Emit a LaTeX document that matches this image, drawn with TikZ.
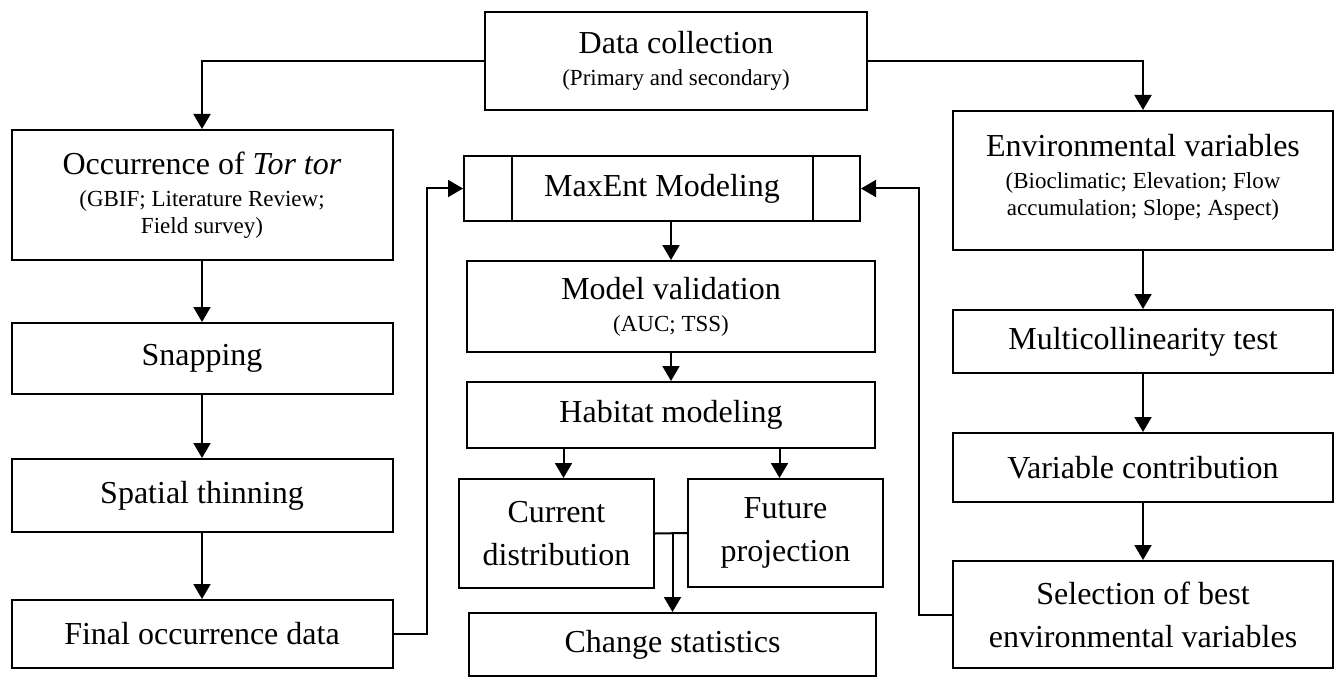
\documentclass[tikz,border=0pt]{standalone}
\usepackage{fontspec}
\setmainfont{Liberation Serif}
\usetikzlibrary{arrows.meta,calc}
\newcommand{\sm}{\fontsize{23}{27}\selectfont}
\tikzset{
  box/.style={draw=black, line width=2pt, fill=white, inner sep=0pt, align=center,
    font=\fontsize{32}{43}\selectfont},
  dual/.style={box, font=\fontsize{32}{27}\selectfont},
  conn/.style={draw=black, line width=2pt},
  arr/.style={conn, -{Triangle[length=15pt,width=17pt]}}
}
\begin{document}
\begin{tikzpicture}[x=1pt,y=-1pt]
\useasboundingbox (0,0) rectangle (1340,679);
% left column
\node[dual, minimum width=382pt, minimum height=98pt] (dc) at (676,61) {Data collection\\[5pt]\sm (Primary and secondary)};
\node[dual, minimum width=381pt, minimum height=130pt] (occ) at (202,195) {Occurrence of \textit{Tor tor}\\[5pt]\sm (GBIF; Literature Review;\\ \sm Field survey)};
\node[box, minimum width=381pt, minimum height=71pt] (snap) at (202,358.5) {Snapping};
\node[box, minimum width=381pt, minimum height=73pt] (thin) at (202,495.5) {Spatial thinning};
\node[box, minimum width=381pt, minimum height=68pt] (final) at (202,634) {Final occurrence data};
% right column
\node[dual, minimum width=380pt, minimum height=139pt] (env) at (1143,180.5) {Environmental variables\\[5pt]\sm (Bioclimatic; Elevation; Flow\\ \sm accumulation; Slope; Aspect)\\[-16pt]\sm~};
\node[box, minimum width=380pt, minimum height=63pt] (multi) at (1143,341.5) {Multicollinearity test};
\node[box, minimum width=380pt, minimum height=69pt] (varc) at (1143,467.5) {Variable contribution};
\node[box, minimum width=380pt, minimum height=107pt] (sel) at (1143,614.5) {Selection of best\\ environmental variables};
% centre
\node[box, minimum width=396pt, minimum height=65pt] (me) at (662,188.5) {MaxEnt Modeling};
\draw[conn] ($(me.north west)+(49,0)$) -- ($(me.south west)+(49,0)$);
\draw[conn] ($(me.north east)+(-48,0)$) -- ($(me.south east)+(-48,0)$);
\node[dual, minimum width=408pt, minimum height=91pt] (mv) at (671,306.5) {Model validation\\[5pt]\sm (AUC; TSS)};
\node[box, minimum width=408pt, minimum height=66pt] (hab) at (671,415) {Habitat modeling};
\node[box, minimum width=195pt, minimum height=109pt] (cur) at (556.5,533.5) {Current\\ distribution};
\node[box, minimum width=195pt, minimum height=108pt] (fut) at (785.5,533) {Future\\ projection};
\node[box, minimum width=407pt, minimum height=63pt] (chg) at (672.5,644.5) {Change statistics};
% connectors
\draw[arr] (dc.west) -| (occ.north);
\draw[arr] (dc.east) -| (env.north);
\draw[arr] (occ) -- (snap);
\draw[arr] (snap) -- (thin);
\draw[arr] (thin) -- (final);
\draw[arr] (env) -- (multi);
\draw[arr] (multi) -- (varc);
\draw[arr] (varc) -- (sel);
\draw[arr] (final.east) -- ++(33,0) |- (me.west);
\draw[arr] (sel.west) -- ++(-33,0) |- (me.east);
\draw[arr] (mv.north |- me.south) -- (mv.north);
\draw[arr] (mv) -- (hab);
\draw[arr] ($(cur.north |- hab.south)+(7,0)$) -- ($(cur.north)+(7,0)$);
\draw[arr] ($(fut.north |- hab.south)+(-6,0)$) -- ($(fut.north)+(-6,0)$);
\draw[conn] (cur.east) -- (fut.west);
\draw[arr] (chg.north |- cur.east) -- (chg.north);
\end{tikzpicture}
\end{document}
